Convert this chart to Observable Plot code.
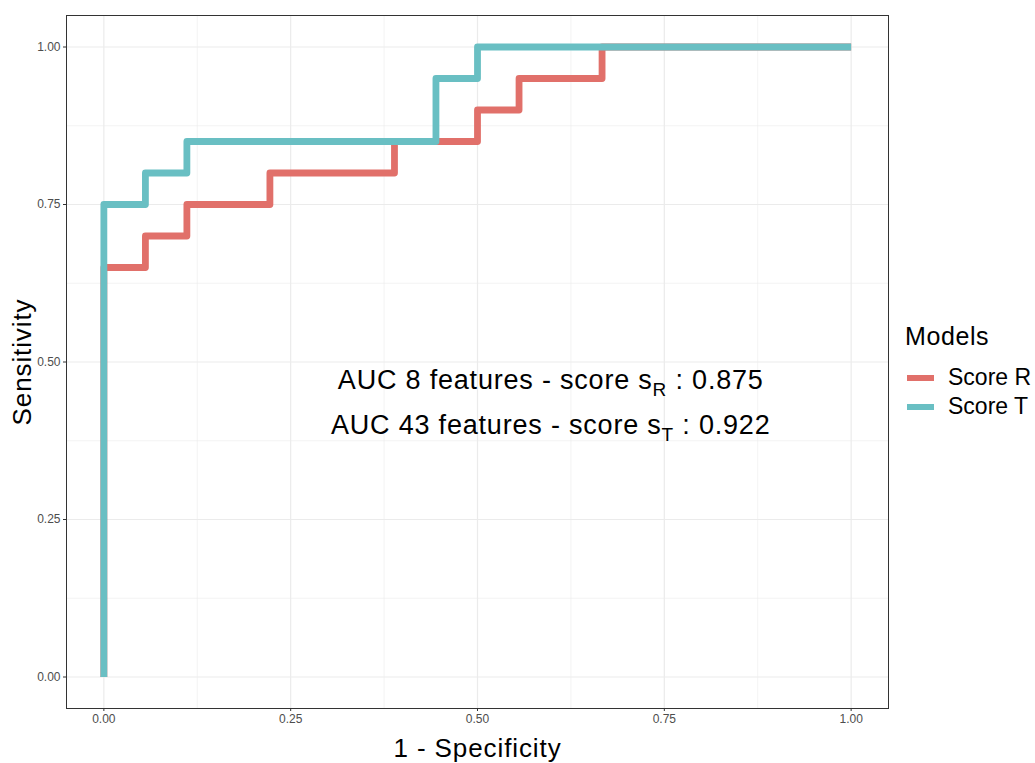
<!DOCTYPE html>
<html>
<head>
<meta charset="utf-8">
<script src="https://cdn.jsdelivr.net/npm/d3@7"></script>
<script src="https://cdn.jsdelivr.net/npm/@observablehq/plot@0.6"></script>
<style>
  html, body { margin: 0; padding: 0; background: #fff; }
  #wrap { position: relative; width: 1035px; height: 763px; font-family: "Liberation Sans", Arial, Helvetica, sans-serif; }
  #legend { position: absolute; left: 905px; top: 321px; color: #000; white-space: nowrap; }
  #legend .title { font-size: 25px; line-height: 30px; margin-bottom: 12px; letter-spacing: 0.6px; }
  #legend .item { display: flex; align-items: center; height: 29px; font-size: 23px; }
  #legend .key { width: 27px; height: 6px; margin-right: 14px; margin-left: 2px; }
</style>
</head>
<body>
<div id="wrap"></div>
<script>
// ---- data ----
const models = ["Score R", "Score T"];
const modelColors = ["#E1706A", "#69BFC3"];
// ROC points (1 - specificity, sensitivity), drawn as a step curve
const fprR = [0, 0, 0.0556, 0.1111, 0.2222, 0.3889, 0.5, 0.5556, 0.6667, 1];
const tprR = [0, 0.65, 0.70, 0.75, 0.80, 0.85, 0.90, 0.95, 1.00, 1.00];
const fprT = [0, 0, 0.0556, 0.1111, 0.4444, 0.5, 1];
const tprT = [0, 0.75, 0.80, 0.85, 0.95, 1.00, 1.00];
const aucLabels = ["AUC 8 features - score s", "AUC 43 features - score s"];
const aucSubs = ["R", "T"];
const aucValues = ["0.875", "0.922"];
const aucY = [0.471, 0.400];
const aucX = 0.598;
const majorTicks = [0, 0.25, 0.5, 0.75, 1];
const minorTicks = [0.125, 0.375, 0.625, 0.875];
const xTitle = "1 - Specificity";
const yTitle = "Sensitivity";
const legendTitle = "Models";

// ---- build tables ----
const rocR = fprR.map((x, i) => ({model: models[0], fpr: x, tpr: tprR[i]}));
const rocT = fprT.map((x, i) => ({model: models[1], fpr: x, tpr: tprT[i]}));
const ann = aucLabels.map((t, i) => ({text: t, sub: aucSubs[i], val: aucValues[i], x: aucX, y: aucY[i]}));

const colorScale = {domain: models, range: modelColors};

const chart = Plot.plot({
  width: 1035,
  height: 763,
  marginLeft: 66,
  marginRight: 147,
  marginTop: 15,
  marginBottom: 55,
  style: {fontFamily: '"Liberation Sans", Arial, Helvetica, sans-serif', background: "#fff"},
  x: {domain: [-0.05, 1.05]},
  y: {domain: [-0.05, 1.05]},
  color: colorScale,
  marks: [
    Plot.gridX(minorTicks, {stroke: "#ebebeb", strokeOpacity: 1, strokeWidth: 0.6}),
    Plot.gridY(minorTicks, {stroke: "#ebebeb", strokeOpacity: 1, strokeWidth: 0.6}),
    Plot.gridX(majorTicks, {stroke: "#ebebeb", strokeOpacity: 1, strokeWidth: 1.2}),
    Plot.gridY(majorTicks, {stroke: "#ebebeb", strokeOpacity: 1, strokeWidth: 1.2}),
    Plot.line(rocR, {x: "fpr", y: "tpr", stroke: "model", strokeWidth: 6.8, curve: "step-after", strokeLinejoin: "round", strokeLinecap: "butt"}),
    Plot.line(rocT, {x: "fpr", y: "tpr", stroke: "model", strokeWidth: 6.8, curve: "step-after", strokeLinejoin: "round", strokeLinecap: "butt"}),
    Plot.text(ann, {x: "x", y: "y", text: "text", fontSize: 27, fill: "#000", className: "auc-text"}),
    Plot.frame({stroke: "#333", strokeWidth: 1}),
    Plot.axisX(majorTicks, {tickFormat: d => d.toFixed(2), tickSize: 3, tickPadding: 3, fontSize: 12, fill: "#4d4d4d", stroke: "#333", label: null}),
    Plot.axisY(majorTicks, {tickFormat: d => d.toFixed(2), tickSize: 3, tickPadding: 3, fontSize: 12, fill: "#4d4d4d", stroke: "#333", label: null}),
    Plot.text([xTitle], {frameAnchor: "bottom", dy: 40, fontSize: 26, fill: "#000", lineAnchor: "middle", textAnchor: "middle", className: "axis-title"}),
    Plot.text([yTitle], {frameAnchor: "left", dx: -44, rotate: -90, fontSize: 26, fill: "#000", lineAnchor: "middle", textAnchor: "middle", className: "axis-title"})
  ]
});

// subscripts in the AUC annotation
d3.select(chart).selectAll("g.auc-text text").each(function(_, i) {
  const t = d3.select(this);
  const d = ann[i];
  t.text(null).style("letter-spacing", "0.8px");
  t.append("tspan").text(d.text);
  t.append("tspan").attr("dy", "7").attr("font-size", "19").text(d.sub);
  t.append("tspan").attr("dy", "-7").text(" : " + d.val);
});
d3.select(chart).selectAll("g.axis-title text").style("letter-spacing", "0.9px");

const wrap = document.getElementById("wrap");
wrap.appendChild(chart);

// legend
const leg = d3.select(wrap).append("div").attr("id", "legend");
leg.append("div").attr("class", "title").text(legendTitle);
models.forEach((m, i) => {
  const it = leg.append("div").attr("class", "item");
  it.append("div").attr("class", "key").style("background", modelColors[i]);
  it.append("span").text(m);
});
</script>
</body>
</html>
